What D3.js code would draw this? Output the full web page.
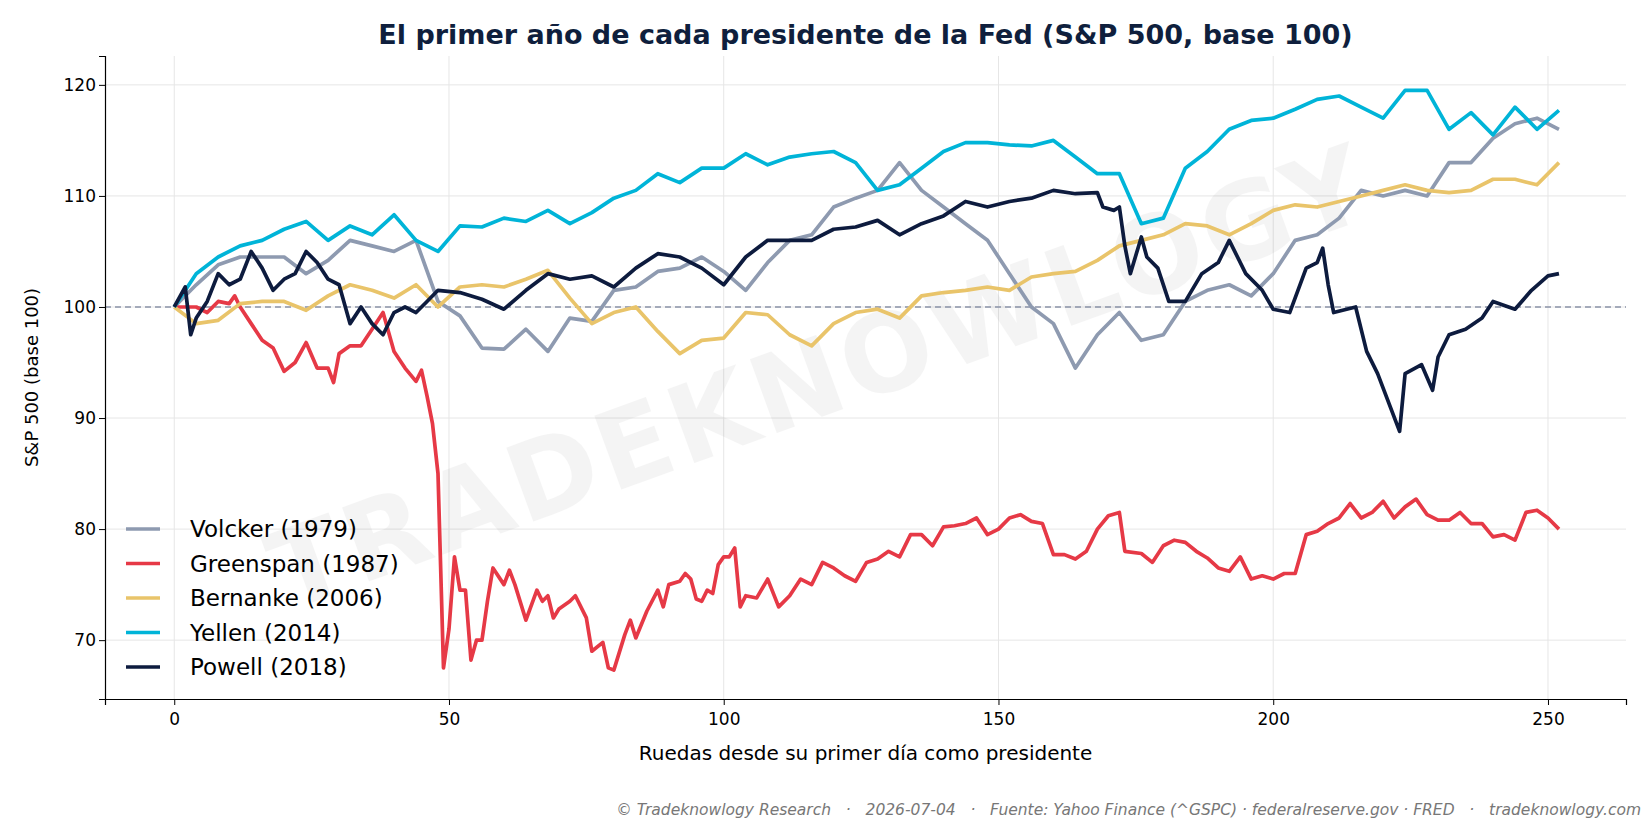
<!DOCTYPE html>
<html><head><meta charset="utf-8">
<script src="https://cdn.jsdelivr.net/npm/d3@7"></script>
<style>body{margin:0;background:#fff;font-family:"DejaVu Sans",sans-serif}</style>
</head><body><svg id="c" width="1650" height="825"></svg>
<script>
const stepDays = d3.range(0, 253, 4);
const volckerVals = [100,102,103.8,104.5,104.5,104.5,103,104.2,106,105.5,105,106,100.5,99.2,96.3,96.2,98,96,99,98.7,101.5,101.8,103.2,103.5,104.5,103.2,101.5,104,106,106.5,109,109.8,110.5,113,110.5,109,107.5,106,103,100,98.5,94.5,97.5,99.5,97,97.5,100.5,101.5,102,101,103,106,106.5,108,110.5,110,110.5,110,113,113,115.2,116.5,117,116];
const bernankeVals = [100,98.5,98.8,100.3,100.5,100.5,99.7,101,102,101.5,100.8,102,100,101.8,102,101.8,102.5,103.3,100.8,98.5,99.5,100,97.8,95.8,97,97.2,99.5,99.3,97.5,96.5,98.5,99.5,99.8,99,101,101.3,101.5,101.8,101.5,102.7,103,103.2,104.2,105.5,106,106.5,107.5,107.3,106.5,107.5,108.7,109.2,109,109.5,110,110.5,111,110.5,110.3,110.5,111.5,111.5,111,113];
const yellenVals = [100,103,104.5,105.5,106,107,107.7,106,107.3,106.5,108.3,106,105,107.3,107.2,108,107.7,108.7,107.5,108.5,109.8,110.5,112,111.2,112.5,112.5,113.8,112.8,113.5,113.8,114,113,110.5,111,112.5,114,114.8,114.8,114.6,114.5,115,113.5,112,112,107.5,108,112.5,114,116,116.8,117,117.8,118.7,119,118,117,119.5,119.5,116,117.5,115.5,118,116,117.7];
const powellDays = [0,2,3,4,6,8,10,12,14,16,18,20,22,24,26,28,30,32,34,36,38,40,42,44,46,48,52,56,60,64,68,72,76,80,84,88,92,96,100,104,108,112,116,120,124,128,132,136,140,144,148,152,156,160,164,168,169,171,172,173,174,176,177,179,181,184,187,190,192,195,198,200,203,206,208,209,210,211,215,217,219,223,224,227,229,230,232,235,238,240,244,247,250,252];
const powellVals = [100,101.8,97.5,99,100.5,103,102,102.5,105,103.5,101.5,102.5,103,105,104,102.5,102,98.5,100,98.5,97.5,99.5,100,99.5,100.5,101.5,101.3,100.7,99.8,101.5,103,102.5,102.8,101.8,103.5,104.8,104.5,103.5,102,104.5,106,106,106,107,107.2,107.8,106.5,107.5,108.2,109.5,109,109.5,109.8,110.5,110.2,110.3,109,108.7,109,105.5,103,106.3,104.5,103.5,100.5,100.5,103,104,106,103,101.5,99.8,99.5,103.5,104,105.3,102,99.5,100,96,94,88.8,94,94.8,92.5,95.5,97.5,98,99,100.5,99.8,101.5,102.8,103];
const greenspanDays = [0,2,4,6,8,10,11,12,14,16,18,20,22,24,26,28,29,30,32,34,36,38,40,42,44,45,46,47,48,49,50,51,52,53,54,55,56,57,58,60,61,62,64,66,67,68,69,70,72,73,75,76,78,79,80,82,83,84,86,88,89,90,92,93,94,95,96,97,98,99,100,101,102,103,104,106,108,110,112,114,116,118,120,122,124,126,128,130,132,134,136,138,140,142,144,146,148,150,152,154,156,158,160,162,164,166,168,170,172,173,176,178,180,182,184,186,188,190,192,194,196,198,200,202,204,206,208,210,212,214,216,218,220,222,224,226,228,230,232,234,236,238,240,242,244,246,248,250,252];
const greenspanVals = [100,100,100,99.5,100.5,100.3,101,100,98.5,97,96.3,94.2,95,96.8,94.5,94.5,93.2,95.8,96.5,96.5,98,99.5,96,94.5,93.3,94.3,92,89.5,85,67.5,71,77.5,74.5,74.5,68.2,70,70,73.5,76.5,75,76.3,75,71.8,74.5,73.5,74,72,72.8,73.5,74,72,69,69.8,67.5,67.3,70.5,71.8,70.2,72.6,74.5,73,75,75.3,76,75.5,73.7,73.5,74.5,74.2,76.8,77.5,77.5,78.3,73,74,73.8,75.5,73,74,75.5,75,77,76.5,75.8,75.3,77,77.3,78,77.5,79.5,79.5,78.5,80.2,80.3,80.5,81,79.5,80,81,81.3,80.7,80.5,77.7,77.7,77.3,78,80,81.2,81.5,78,77.8,77,78.5,79,78.8,78,77.4,76.5,76.2,77.5,75.5,75.8,75.5,76,76,79.5,79.8,80.5,81,82.3,81,81.5,82.5,81,82,82.7,81.3,80.8,80.8,81.5,80.5,80.5,79.3,79.5,79,81.5,81.7,81,80];
const seriesNames = ["Volcker (1979)","Greenspan (1987)","Bernanke (2006)","Yellen (2014)","Powell (2018)"];
const seriesColors = ["#8e9ab0","#e63946","#e9c46a","#00b4d8","#0d1b3e"];
const xTicks = [0,50,100,150,200,250];
const yTicks = [70,80,90,100,110,120];

const series = [
  {days: stepDays, vals: volckerVals},
  {days: greenspanDays, vals: greenspanVals},
  {days: stepDays, vals: bernankeVals},
  {days: stepDays, vals: yellenVals},
  {days: powellDays, vals: powellVals}
];
const svg = d3.select("#c");
const L=105,R=1626,T=56,B=699;
const x = d3.scaleLinear().domain([-12.6,264.2]).range([L,R]);
const y = d3.scaleLinear().domain([64.7,122.6]).range([B,T]);

svg.append("g").selectAll("line").data(xTicks).join("line")
  .attr("x1",d=>x(d)).attr("x2",d=>x(d)).attr("y1",T).attr("y2",B).attr("stroke","#e6e6e6");
svg.append("g").selectAll("line").data(yTicks).join("line")
  .attr("x1",L).attr("x2",R).attr("y1",d=>y(d)).attr("y2",d=>y(d)).attr("stroke","#e6e6e6");

svg.append("text").attr("transform",`translate(${x(118)},${y(93)}) rotate(-20)`)
  .attr("text-anchor","middle").attr("dominant-baseline","middle")
  .attr("font-size",108).attr("font-weight","bold").attr("fill","#000").attr("opacity",0.04)
  .attr("letter-spacing",4).text("TRADEKNOWLOGY");

svg.append("line").attr("x1",L).attr("x2",R).attr("y1",y(100)).attr("y2",y(100))
  .attr("stroke","#8a93a8").attr("stroke-width",1.5).attr("stroke-dasharray","6,4");

const line = d3.line().x(d=>x(d[0])).y(d=>y(d[1]));
series.forEach((s,i)=>{
  svg.append("path").datum(s.days.map((d,j)=>[d,s.vals[j]]))
    .attr("d",line).attr("fill","none").attr("stroke",seriesColors[i])
    .attr("stroke-width",3.7).attr("stroke-linejoin","round");
});

const xa = svg.append("g").attr("transform",`translate(0,${B})`).call(d3.axisBottom(x).tickValues(xTicks).tickSizeOuter(0).tickSize(6));
const ya = svg.append("g").attr("transform",`translate(${L},0)`).call(d3.axisLeft(y).tickValues(yTicks).tickSizeOuter(0).tickSize(6));
[xa,ya].forEach(a=>{a.selectAll("text").attr("font-size",17).attr("font-family","DejaVu Sans").attr("fill","#000");
  a.select(".domain").attr("stroke","#000").attr("stroke-width",1.2);});
xa.selectAll("text").attr("dy","1.0em");

svg.append("text").attr("x",(L+R)/2).attr("y",44).attr("text-anchor","middle")
  .attr("font-size",27).attr("font-weight","bold").attr("fill","#0f1f3d")
  .text("El primer año de cada presidente de la Fed (S&P 500, base 100)");
svg.append("text").attr("x",(L+R)/2).attr("y",760).attr("text-anchor","middle")
  .attr("font-size",20).text("Ruedas desde su primer día como presidente");
svg.append("text").attr("transform",`translate(38,${(T+B)/2}) rotate(-90)`).attr("text-anchor","middle")
  .attr("font-size",18).text("S&P 500 (base 100)");
svg.append("text").attr("x",1641).attr("y",815).attr("text-anchor","end")
  .attr("font-size",15.5).attr("font-style","italic").attr("fill","#777")
  .style("white-space","pre")
  .text("© Tradeknowlogy Research   ·   2026-07-04   ·   Fuente: Yahoo Finance (^GSPC) · federalreserve.gov · FRED   ·   tradeknowlogy.com");

const lg = svg.append("g");
seriesNames.forEach((n,i)=>{
  const yy = 529 + i*34.5;
  lg.append("line").attr("x1",126).attr("x2",160).attr("y1",yy).attr("y2",yy)
    .attr("stroke",seriesColors[i]).attr("stroke-width",3.7);
  lg.append("text").attr("x",190).attr("y",yy).attr("dominant-baseline","central")
    .attr("font-size",23).text(n);
});
</script></body></html>
